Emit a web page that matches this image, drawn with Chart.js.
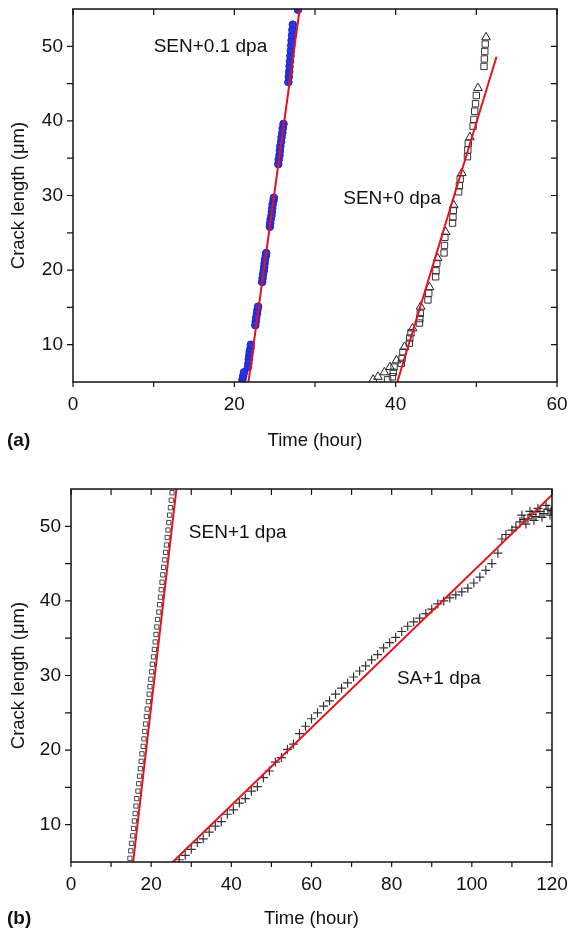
<!DOCTYPE html>
<html>
<head>
<meta charset="utf-8">
<script src="https://cdn.jsdelivr.net/npm/chart.js@4.4.1/dist/chart.umd.min.js"></script>
<style>
  html, body { margin: 0; padding: 0; background: #fff; }
  #wrap { position: relative; width: 570px; height: 933px; }
  canvas { position: absolute; left: 0; }
</style>
</head>
<body>
<div id="wrap">
  <canvas id="chartA" width="570" height="466" style="top:0"></canvas>
  <canvas id="chartB" width="570" height="467" style="top:466px"></canvas>
</div>
<script>
// ---- panel (a) ----
const sen01Time = [21.0, 21.1, 21.2, 21.7, 21.75, 21.8, 21.85, 21.9, 22.0, 22.05, 22.6, 22.65, 22.7, 22.8, 22.85, 22.95, 23.45, 23.5, 23.55, 23.65, 23.7, 23.75, 23.8, 23.9, 23.95, 24.4, 24.45, 24.5, 24.6, 24.65, 24.7, 24.75, 24.85, 24.9, 25.45, 25.5, 25.6, 25.65, 25.7, 25.8, 25.85, 25.95, 26.0, 26.1, 26.7, 26.75, 26.8, 26.85, 26.9, 26.95, 27.0, 27.05, 27.1, 27.15, 27.2, 27.25, 27.9];
const sen01Crack = [5.3, 5.8, 6.3, 7.0, 7.5, 8.0, 8.5, 9.0, 9.5, 10.0, 12.6, 13.1, 13.6, 14.1, 14.6, 15.1, 18.4, 18.9, 19.4, 19.9, 20.4, 20.9, 21.4, 21.9, 22.3, 25.8, 26.3, 26.8, 27.3, 27.8, 28.3, 28.8, 29.3, 29.7, 34.2, 34.8, 35.4, 36.0, 36.6, 37.2, 37.8, 38.4, 39.0, 39.6, 45.2, 45.9, 46.6, 47.3, 48.0, 48.7, 49.4, 50.1, 50.8, 51.5, 52.2, 52.9, 54.9];
const sen01FitTime = [21.75, 28.1];
const sen01FitCrack = [5, 55];

const sen0TriTime = [37.2, 37.8, 38.6, 39.3, 40.1, 41.1, 42.1, 43.1, 44.2, 45.2, 46.2, 47.2, 48.2, 49.2, 50.2, 51.2];
const sen0TriCrack = [5.3, 5.7, 6.3, 7.0, 7.9, 9.7, 12.2, 15.1, 17.7, 21.6, 25.1, 28.7, 33.0, 37.8, 44.4, 51.2];
const sen0SqTime = [51.1, 51.05, 51.0, 50.95, 50.0, 49.9, 49.8, 49.7, 49.6, 49.0, 48.95, 48.9, 48.0, 47.9, 47.8, 47.15, 47.1, 47.05, 46.1, 46.05, 46.0, 45.1, 45.0, 44.95, 44.1, 44.0, 43.05, 43.0, 42.95, 41.9, 41.75, 41.7, 40.9, 40.8, 40.7, 39.8, 39.7, 39.6, 39.0];
const sen0SqCrack = [50.3, 49.3, 48.3, 47.3, 43.4, 42.3, 41.3, 40.2, 39.3, 37.0, 36.1, 35.2, 32.2, 31.3, 30.5, 28.0, 27.1, 26.3, 24.4, 23.3, 22.3, 20.9, 19.9, 19.1, 16.9, 16.0, 14.2, 13.5, 12.9, 11.6, 10.9, 10.2, 9.0, 8.2, 7.5, 7.0, 6.3, 5.7, 5.3];
const sen0FitTime = [40.2, 52.5];
const sen0FitCrack = [5, 48.6];

const xTicksA = [0, 20, 40, 60];
const xMarksA = [0, 10, 20, 30, 40, 50, 60];
const noteTextA = ["SEN+0.1 dpa", "SEN+0 dpa"];
const noteTimeA = [10, 33.5];
const noteCrackA = [50, 29.6];

// ---- panel (b) ----
const sen1Time = [14.7, 14.9, 15.1, 15.4, 15.6, 15.8, 16.0, 16.2, 16.4, 16.7, 16.9, 17.1, 17.3, 17.5, 17.7, 18.0, 18.2, 18.4, 18.6, 18.8, 19.0, 19.3, 19.5, 19.7, 19.9, 20.1, 20.3, 20.6, 20.8, 21.0, 21.2, 21.4, 21.6, 21.9, 22.1, 22.3, 22.5, 22.7, 22.9, 23.1, 23.4, 23.6, 23.8, 24.0, 24.2, 24.4, 24.6, 24.8, 25.0, 25.2];
const sen1Crack = [5.5, 6.5, 7.5, 8.5, 9.5, 10.5, 11.5, 12.5, 13.5, 14.5, 15.5, 16.5, 17.5, 18.5, 19.5, 20.5, 21.5, 22.5, 23.5, 24.5, 25.5, 26.5, 27.5, 28.5, 29.5, 30.5, 31.5, 32.5, 33.5, 34.5, 35.5, 36.5, 37.5, 38.5, 39.5, 40.5, 41.5, 42.5, 43.5, 44.5, 45.5, 46.5, 47.5, 48.5, 49.5, 50.5, 51.5, 52.5, 53.5, 54.5];
const sen1FitTime = [15.5, 26.3];
const sen1FitCrack = [5, 55];

const sa1Time = [27, 28.5, 30, 31.5, 33, 34.5, 36, 37.5, 39, 40.5, 42, 43.5, 45, 46.5, 48, 49.5, 51, 52.5, 54, 55.5, 57, 58.5, 60, 61.5, 63, 64.5, 66, 67.5, 69, 70.5, 72, 73.5, 75, 76.5, 78, 79.5, 81, 82.5, 84, 85.5, 87, 88.5, 90, 91.5, 93, 94.5, 96, 97.5, 99, 100.5, 102, 103.5, 105, 106.5, 107.5, 108.5, 110, 111, 112, 112.5, 113, 113.5, 114, 114.5, 115, 115.5, 116, 116.5, 117, 117.5, 118, 118.5, 119, 119.5, 119.8];
const sa1Crack = [5.3, 5.9, 6.7, 7.6, 8.1, 9.0, 9.8, 10.4, 11.4, 12.0, 12.9, 13.5, 14.5, 15.1, 16.3, 17.2, 18.4, 19.0, 20.1, 20.8, 22.2, 23.2, 24.2, 25.0, 25.9, 26.6, 27.5, 28.3, 29.0, 29.8, 30.6, 31.3, 32.1, 32.8, 33.7, 34.4, 35.1, 35.9, 36.6, 37.2, 37.7, 38.3, 38.9, 39.6, 40.0, 40.4, 40.8, 41.2, 41.7, 42.4, 43.2, 44.1, 45.0, 46.4, 48.3, 48.9, 49.5, 49.9, 50.6, 51.5, 50.9, 50.3, 51.0, 52.0, 51.6, 50.8, 51.3, 52.4, 52.0, 51.2, 51.7, 52.8, 52.3, 51.5, 52.1];
const sa1FitTime = [25.4, 120];
const sa1FitCrack = [5, 54.2];

const xTicksB = [0, 20, 40, 60, 80, 100, 120];
const xMarksB = [0, 10, 20, 30, 40, 50, 60, 70, 80, 90, 100, 110, 120];
const noteTextB = ["SEN+1 dpa", "SA+1 dpa"];
const noteTimeB = [29.4, 81.3];
const noteCrackB = [49.2, 29.6];

// ---- shared y axis ----
const yTicks = [10, 20, 30, 40, 50];
const yMarks = [10, 15, 20, 25, 30, 35, 40, 45, 50];

const family = "'Liberation Sans', Arial, sans-serif";
const red = "#e3131b";

function pts(xs, ys) {
    return xs.map((v, i) => ({ x: v, y: ys[i] }));
}

// frame, inner/outer tick marks, in-plot notes and panel tag
const framePlugin = {
    id: "frame",
    afterDatasetsDraw(chart, args, opts) {
        const { ctx, chartArea: a } = chart;
        const x = chart.scales.x, y = chart.scales.y;
        ctx.save();
        ctx.strokeStyle = "#111";
        ctx.lineWidth = 1.5;
        ctx.strokeRect(a.left, a.top, a.right - a.left, a.bottom - a.top);
        ctx.lineWidth = 1.2;
        ctx.beginPath();
        opts.xMarks.forEach(v => {
            const px = x.getPixelForValue(v);
            ctx.moveTo(px, a.bottom); ctx.lineTo(px, a.bottom + 5);
            ctx.moveTo(px, a.top); ctx.lineTo(px, a.top + 6);
        });
        opts.yMarks.forEach(v => {
            const py = y.getPixelForValue(v);
            ctx.moveTo(a.left, py); ctx.lineTo(a.left - 6, py);
            ctx.moveTo(a.right, py); ctx.lineTo(a.right - 6, py);
        });
        ctx.stroke();

        ctx.fillStyle = "#111";
        ctx.font = "19px " + family;
        ctx.textBaseline = "middle";
        ctx.textAlign = "left";
        opts.notes.forEach((t, i) => {
            ctx.fillText(t, x.getPixelForValue(opts.noteX[i]), y.getPixelForValue(opts.noteY[i]));
        });
        ctx.font = "bold 19px " + family;
        ctx.fillText(opts.tag, 7, opts.tagY);
        ctx.restore();
    }
};

function makeChart(id, datasets, cfg) {
    return new Chart(document.getElementById(id), {
        type: "scatter",
        data: { datasets: datasets },
        options: {
            responsive: false,
            animation: false,
            events: [],
            layout: { padding: { left: 0, top: cfg.top, right: cfg.right, bottom: 0 } },
            plugins: {
                legend: { display: false },
                tooltip: { enabled: false },
                frame: {
                    xMarks: cfg.xMarks, yMarks: yMarks,
                    notes: cfg.notes, noteX: cfg.noteX, noteY: cfg.noteY,
                    tag: cfg.tag, tagY: cfg.tagY
                }
            },
            scales: {
                x: {
                    type: "linear", min: 0, max: cfg.xMax,
                    afterBuildTicks: s => { s.ticks = cfg.xTicks.map(v => ({ value: v })); },
                    afterFit: s => { s.height = cfg.xh; s.paddingLeft = 0; s.paddingRight = 0; },
                    grid: { display: false, drawTicks: false },
                    border: { display: false },
                    ticks: { color: "#111", font: { size: 19, family: family }, padding: 11, maxRotation: 0 },
                    title: {
                        display: true, text: "Time (hour)", color: "#111",
                        font: { size: 18.5, family: family },
                        padding: { top: 0, bottom: cfg.titlePad }
                    }
                },
                y: {
                    type: "linear", min: 5, max: 55,
                    afterBuildTicks: s => { s.ticks = yTicks.map(v => ({ value: v })); },
                    afterFit: s => { s.width = cfg.yw; s.paddingTop = 0; s.paddingBottom = 0; },
                    grid: { display: false, drawTicks: false },
                    border: { display: false },
                    ticks: { color: "#111", font: { size: 19, family: family }, padding: 10 },
                    title: {
                        display: true, text: "Crack length (\u03bcm)", color: "#111",
                        font: { size: 18.5, family: family },
                        padding: { top: 8, bottom: 0 }
                    }
                }
            }
        },
        plugins: [framePlugin]
    });
}

function fitLine(xs, ys) {
    return { data: pts(xs, ys), showLine: true, borderColor: red, borderWidth: 2, pointRadius: 0, order: 0 };
}

makeChart("chartA", [
    fitLine(sen01FitTime, sen01FitCrack),
    fitLine(sen0FitTime, sen0FitCrack),
    {
        data: pts(sen01Time, sen01Crack), pointStyle: "circle", pointRadius: 3.8,
        backgroundColor: "#2633e6", borderColor: "#1d27c9", borderWidth: 1, order: 1
    },
    {
        data: pts(sen0SqTime, sen0SqCrack), pointStyle: "rect", pointRadius: 4.5,
        backgroundColor: "rgba(255,255,255,0)", borderColor: "#333", borderWidth: 1, order: 1
    },
    {
        data: pts(sen0TriTime, sen0TriCrack), pointStyle: "triangle", pointRadius: 5,
        backgroundColor: "rgba(255,255,255,0)", borderColor: "#222", borderWidth: 1, order: 1
    }
], {
    top: 9, right: 13, yw: 73, xh: 84, titlePad: 14, xMax: 60,
    xTicks: xTicksA, xMarks: xMarksA,
    notes: noteTextA, noteX: noteTimeA, noteY: noteCrackA,
    tag: "(a)", tagY: 441
});

makeChart("chartB", [
    fitLine(sen1FitTime, sen1FitCrack),
    fitLine(sa1FitTime, sa1FitCrack),
    {
        data: pts(sen1Time, sen1Crack), pointStyle: "rect", pointRadius: 3,
        backgroundColor: "rgba(255,255,255,0)", borderColor: "rgba(30,30,30,0.9)", borderWidth: 0.9, order: 1
    },
    {
        data: pts(sa1Time, sa1Crack), pointStyle: "cross", pointRadius: 4.5,
        borderColor: "rgba(0,0,0,0.8)", borderWidth: 1.2, order: 1
    }
], {
    top: 23, right: 18, yw: 71, xh: 71, titlePad: 3, xMax: 120,
    xTicks: xTicksB, xMarks: xMarksB,
    notes: noteTextB, noteX: noteTimeB, noteY: noteCrackB,
    tag: "(b)", tagY: 453
});
</script>
</body>
</html>
